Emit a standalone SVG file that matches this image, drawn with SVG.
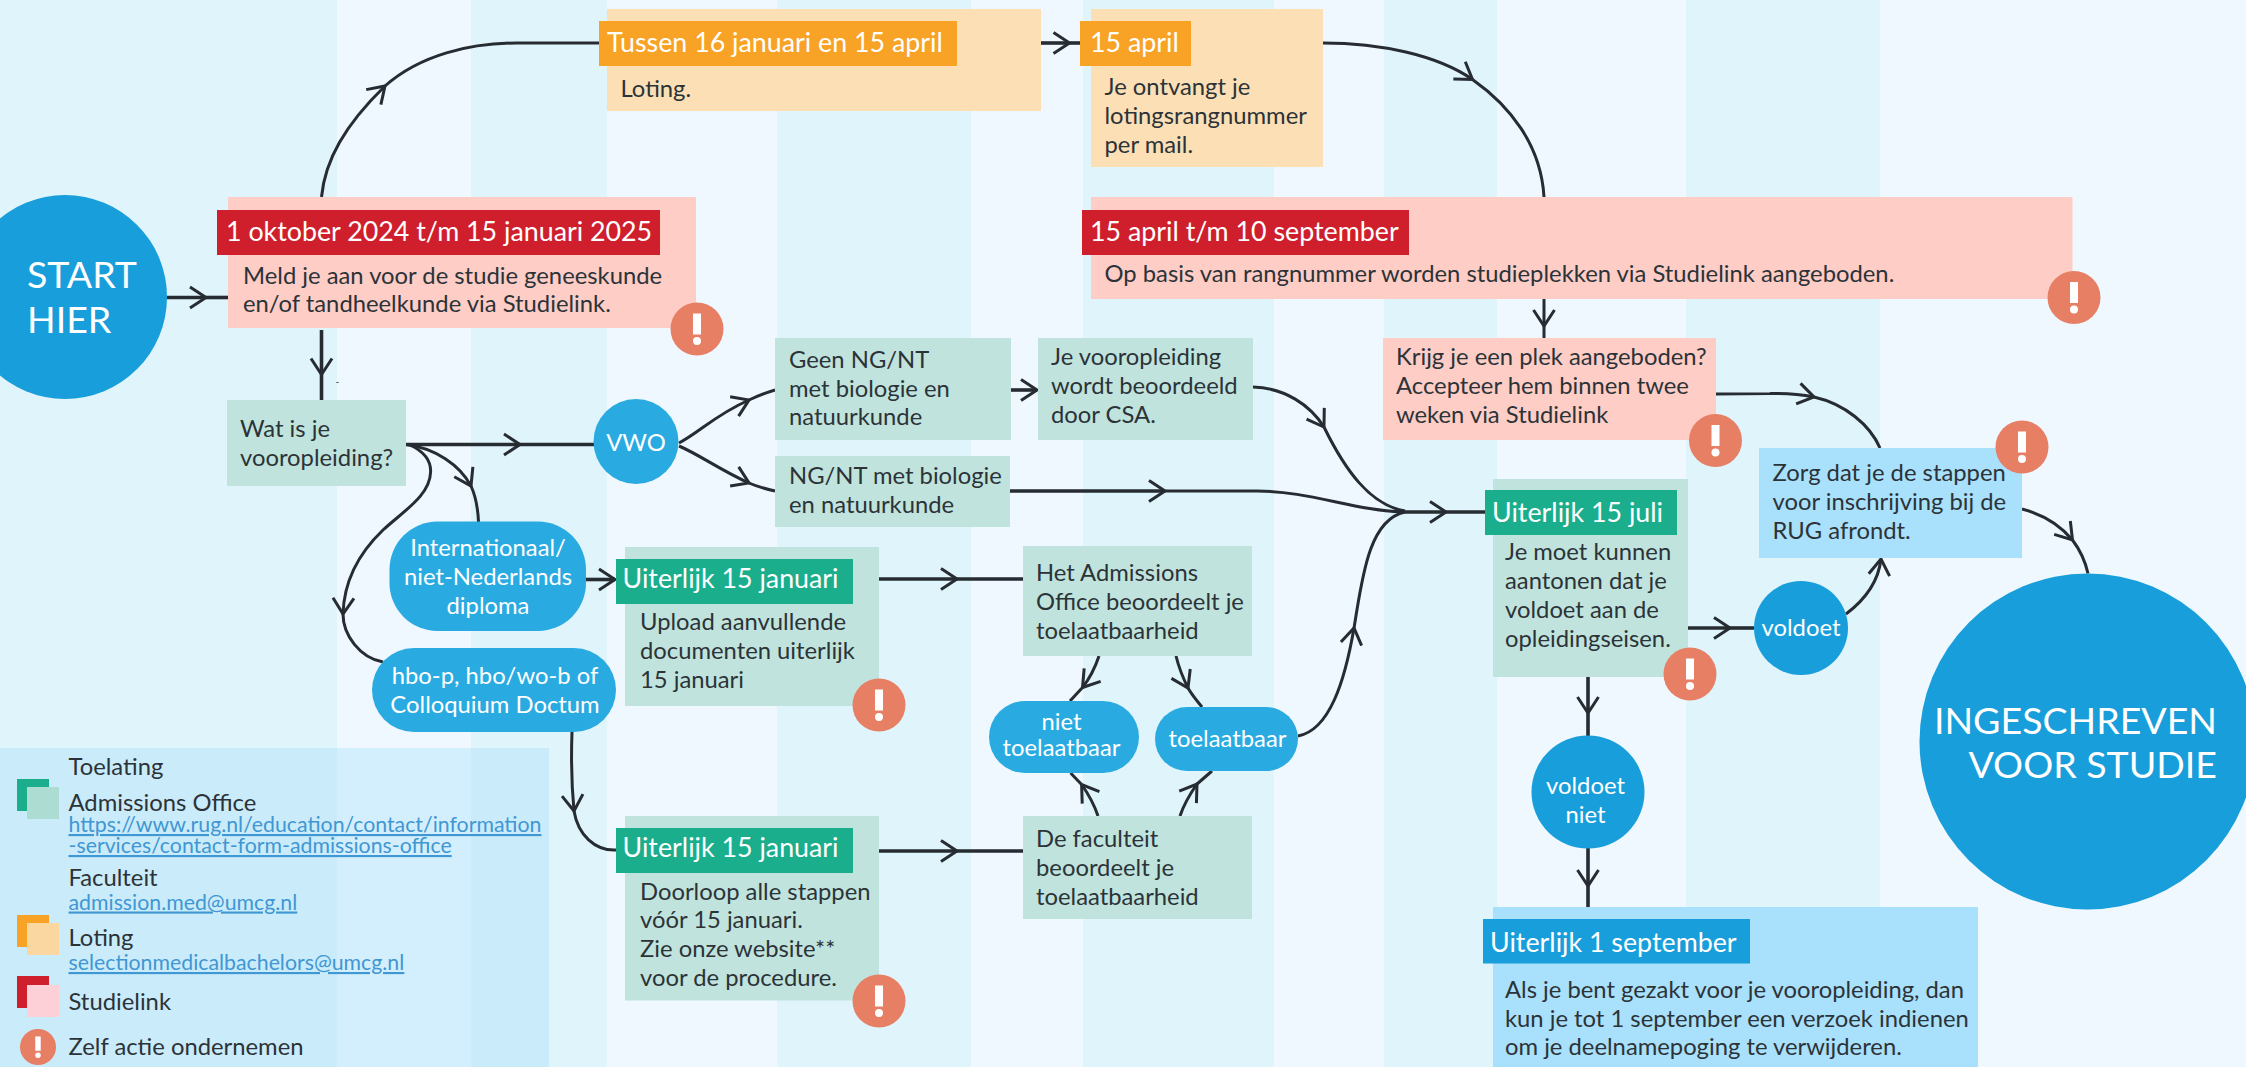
<svg xmlns="http://www.w3.org/2000/svg" width="2246" height="1067" viewBox="0 0 2246 1067">
<style>
text{font-family:"Lato","Liberation Sans",sans-serif;font-size:23.8px;fill:#2c3338}
.h{font-size:26.8px;fill:#fff}
.w{fill:#fff}
.m{text-anchor:middle}
.big{font-size:37.5px;fill:#fff}
.l{font-size:21.3px;fill:#3f97d3;text-decoration:underline}
.c{fill:none;stroke:#262c31;stroke-width:3}
.s{stroke-width:3.6}
.st{fill:#e0f4fb}
.gp{fill:#c0e4dd}.gh{fill:#1aae8c}
.op{fill:#fcdfb5}.oh{fill:#f8a226}
.rp{fill:#fdcdc6}.rh{fill:#d01f2c}
.bp{fill:#a9e0fb}.bh{fill:#189eda}
.pill{fill:#29abe2}
.a{fill:#e77f64}
.x{fill:#fff}
</style>
<defs>
<marker id="arr" markerUnits="userSpaceOnUse" markerWidth="40" markerHeight="40" viewBox="-20 -20 40 40" refX="0" refY="0" orient="auto" overflow="visible">
<path d="M-16,-10.5L0,0L-16,10.5" fill="none" stroke="#262c31" stroke-width="3"/>
</marker>
<g id="alert"><circle r="26.5" class="a"/><rect x="-4" y="-15.5" width="8" height="21" class="x"/><circle cy="12" r="4" class="x"/></g>
</defs>
<g id="background">
<rect width="2246" height="1067" fill="#eff8fe"/>
<rect x="0" width="337" height="1067" class="st"/>
<rect x="471" width="136" height="1067" class="st"/>
<rect x="777" width="194" height="1067" class="st"/>
<rect x="1083" width="191" height="1067" class="st"/>
<rect x="1384" width="113" height="1067" class="st"/>
<rect x="1686" width="194" height="1067" class="st"/>
</g>
<g id="connectors">
<path class="c s" d="M166,297.5H206" marker-end="url(#arr)"/><path class="c s" d="M206,297.5H228"/>
<path class="c" d="M321.5,197C325,160 345,125 385,86" marker-end="url(#arr)"/><path class="c" d="M385,86C420,55 470,43 517,43H599"/>
<path class="c s" d="M321.5,330V374.5" marker-end="url(#arr)"/><path class="c s" d="M321.5,374.5V400"/>
<path class="c s" d="M1041,43H1069.5" marker-end="url(#arr)"/><path class="c s" d="M1069.5,43H1080"/>
<path class="c" d="M1323,43C1380,43 1437,55 1472.5,79.5" marker-end="url(#arr)"/><path class="c" d="M1472.5,79.5C1510,106 1541,145 1544,197"/>
<path class="c" d="M1544,299V326" marker-end="url(#arr)"/><path class="c" d="M1544,326V338"/>
<path class="c s" d="M406,444.5H520" marker-end="url(#arr)"/><path class="c s" d="M520,444.5H594"/>
<path class="c" d="M679,443C700,432 715,415 749,400" marker-end="url(#arr)"/><path class="c" d="M749,400C760,395 768,392 775,390"/>
<path class="c" d="M679,446C700,455 720,470 749,483" marker-end="url(#arr)"/><path class="c" d="M749,483C758,487 766,489 775,491"/>
<path class="c s" d="M1011,390H1037" marker-end="url(#arr)"/>
<path class="c" d="M1253,387C1285,388 1310,405 1324,427" marker-end="url(#arr)"/><path class="c" d="M1324,427C1345,470 1370,505 1405,511"/>
<path class="c s" d="M1010,491H1165" marker-end="url(#arr)"/><path class="c" d="M1165,491H1257C1310,491 1355,511 1405,512"/>
<path class="c s" d="M1405,512H1446" marker-end="url(#arr)"/><path class="c s" d="M1446,512H1485"/>
<path class="c" d="M1298,736C1330,730 1345,680 1354,628" marker-end="url(#arr)"/><path class="c" d="M1354,628C1362,580 1368,520 1405,512"/>
<path class="c" d="M1716,394L1770,393.5C1785,393 1800,394 1814,397" marker-end="url(#arr)"/><path class="c" d="M1814,397C1845,404 1870,425 1880,448"/>
<path class="c" d="M2022,509C2045,515 2060,525 2072.5,540" marker-end="url(#arr)"/><path class="c" d="M2072.5,540C2080,550 2085,560 2088,573.5"/>
<path class="c s" d="M586,579.5H615" marker-end="url(#arr)"/>
<path class="c s" d="M879,579H957" marker-end="url(#arr)"/><path class="c s" d="M957,579H1023"/>
<path class="c s" d="M879,851H957" marker-end="url(#arr)"/><path class="c s" d="M957,851H1023"/>
<path class="c" d="M406,444.5C435,448 460,465 471,486" marker-end="url(#arr)"/><path class="c" d="M471,486C476,497 478,510 478.5,522"/>
<path class="c" d="M410,445C425,452 431,462 430.6,472C430,495 405,510 383,530C360,552 344,580 343,614" marker-end="url(#arr)"/><path class="c" d="M343,614C343,635 360,658 383,662"/>
<path class="c" d="M572,732C571,760 572,790 574,811" marker-end="url(#arr)"/><path class="c" d="M574,811C578,835 595,851 616,850"/>
<path class="c" d="M1099,656C1095,668 1090,678 1082.5,687.5" marker-end="url(#arr)"/><path class="c" d="M1082.5,687.5L1070,701"/>
<path class="c" d="M1176,656C1179,668 1183,678 1188,688" marker-end="url(#arr)"/><path class="c" d="M1188,688C1192,695 1197,701 1202,707"/>
<path class="c" d="M1098,816C1094,804 1089,795 1081.6,784.5" marker-end="url(#arr)"/><path class="c" d="M1081.6,784.5L1070.6,773"/>
<path class="c" d="M1180,816C1184,804 1190,794 1197,784" marker-end="url(#arr)"/><path class="c" d="M1197,784L1212,771"/>
<path class="c s" d="M1688,628H1730" marker-end="url(#arr)"/><path class="c s" d="M1730,628H1754"/>
<path class="c" d="M1846,614C1862,602 1878,585 1881,559" marker-end="url(#arr)"/>
<path class="c s" d="M1588,677V713" marker-end="url(#arr)"/><path class="c s" d="M1588,713V736"/>
<path class="c s" d="M1588,848V886" marker-end="url(#arr)"/><path class="c s" d="M1588,886V907"/>
</g>
<g id="start"><circle cx="65" cy="297" r="102" class="bh"/><text class="big" x="27" y="288">START</text><text class="big" x="27" y="333">HIER</text></g>
<g id="aanmelden"><rect x="228" y="197" width="468" height="131" class="rp"/><rect x="217" y="210" width="443" height="45" class="rh"/><text class="h" x="226" y="241">1 oktober 2024 t/m 15 januari 2025</text><text x="243" y="284">Meld je aan voor de studie geneeskunde</text><text x="243" y="312">en/of tandheelkunde via Studielink.</text><use href="#alert" x="697" y="329"/></g>
<g id="loting"><rect x="607" y="9" width="434" height="102" class="op"/><rect x="599" y="21" width="358" height="45" class="oh"/><text class="h" x="607" y="51.5">Tussen 16 januari en 15 april</text><text x="620.5" y="97">Loting.</text></g>
<g id="rangnummer"><rect x="1091" y="9" width="232" height="158" class="op"/><rect x="1080" y="21" width="111" height="45" class="oh"/><text class="h" x="1090" y="51.5">15 april</text><text x="1104.5" y="95">Je ontvangt je</text><text x="1104.5" y="124">lotingsrangnummer</text><text x="1104.5" y="153">per mail.</text></g>
<g id="studieplekken"><rect x="1091" y="197" width="981.5" height="102" class="rp"/><rect x="1082" y="210" width="327" height="45" class="rh"/><text class="h" x="1090" y="241">15 april t/m 10 september</text><text x="1104.5" y="282">Op basis van rangnummer worden studieplekken via Studielink aangeboden.</text><use href="#alert" x="2074" y="297.5"/></g>
<g id="plek"><rect x="1383" y="338" width="333" height="102" class="rp"/><text x="1396" y="365">Krijg je een plek aangeboden?</text><text x="1396" y="394">Accepteer hem binnen twee</text><text x="1396" y="423">weken via Studielink</text><use href="#alert" x="1715.5" y="440.5"/></g>
<g id="vooropleiding"><rect x="227" y="400" width="179" height="86" class="gp"/><text x="240" y="437">Wat is je</text><text x="240" y="466">vooropleiding?</text><text x="335.5" y="385" style="font-size:10px">-</text></g>
<g id="vwo"><circle cx="636" cy="441.5" r="42.5" class="pill"/><text class="w m" x="636" y="451">VWO</text></g>
<g id="geen-ngnt"><rect x="775" y="338" width="236" height="102" class="gp"/><text x="789" y="367.5">Geen NG/NT</text><text x="789" y="397">met biologie en</text><text x="789" y="425">natuurkunde</text></g>
<g id="csa"><rect x="1038" y="338" width="215" height="102" class="gp"/><text x="1051" y="365">Je vooropleiding</text><text x="1051" y="394">wordt beoordeeld</text><text x="1051" y="423">door CSA.</text></g>
<g id="ngnt"><rect x="775" y="456" width="235" height="71" class="gp"/><text x="789" y="484">NG/NT met biologie</text><text x="789" y="513">en natuurkunde</text></g>
<g id="internationaal"><rect x="389.5" y="521.5" width="196.5" height="109.5" rx="48" class="pill"/><text class="w m" x="488" y="556">Internationaal/</text><text class="w m" x="488" y="585">niet-Nederlands</text><text class="w m" x="488" y="614">diploma</text></g>
<g id="hbo"><rect x="372" y="648" width="244" height="84" rx="42" class="pill"/><text class="w m" x="495" y="684">hbo-p, hbo/wo-b of</text><text class="w m" x="495" y="713">Colloquium Doctum</text></g>
<g id="upload"><rect x="625" y="547" width="254" height="159" class="gp"/><rect x="616" y="559" width="237" height="45" class="gh"/><text class="h" x="622.5" y="588">Uiterlijk 15 januari</text><text x="640" y="630">Upload aanvullende</text><text x="640" y="659">documenten uiterlijk</text><text x="640" y="688">15 januari</text><use href="#alert" x="879" y="705"/></g>
<g id="doorloop"><rect x="625" y="816" width="254" height="184.5" class="gp"/><rect x="616" y="828" width="237" height="45" class="gh"/><text class="h" x="622.5" y="857">Uiterlijk 15 januari</text><text x="640" y="900">Doorloop alle stappen</text><text x="640" y="928">vóór 15 januari.</text><text x="640" y="957">Zie onze website**</text><text x="640" y="986">voor de procedure.</text><use href="#alert" x="879" y="1001"/></g>
<g id="admissions"><rect x="1023" y="546" width="229" height="110" class="gp"/><text x="1036" y="581">Het Admissions</text><text x="1036" y="610">Office beoordeelt je</text><text x="1036" y="639">toelaatbaarheid</text></g>
<g id="faculteit"><rect x="1023" y="816" width="229" height="103" class="gp"/><text x="1036" y="847">De faculteit</text><text x="1036" y="876">beoordeelt je</text><text x="1036" y="905">toelaatbaarheid</text></g>
<g id="niet-toelaatbaar"><rect x="989" y="701" width="150" height="72" rx="36" class="pill"/><text class="w m" x="1061.5" y="730">niet</text><text class="w m" x="1061.5" y="756">toelaatbaar</text></g>
<g id="toelaatbaar"><rect x="1155" y="707" width="143" height="64" rx="32" class="pill"/><text class="w m" x="1227.5" y="747">toelaatbaar</text></g>
<g id="juli"><rect x="1493" y="479" width="195" height="198" class="gp"/><rect x="1485" y="490" width="192" height="45" class="gh"/><text class="h" x="1492" y="522">Uiterlijk 15 juli</text><text x="1505" y="560">Je moet kunnen</text><text x="1505" y="589">aantonen dat je</text><text x="1505" y="618">voldoet aan de</text><text x="1505" y="647">opleidingseisen.</text><use href="#alert" x="1690" y="674"/></g>
<g id="voldoet"><circle cx="1801" cy="628" r="47" class="bh"/><text class="w m" x="1801" y="636">voldoet</text></g>
<g id="voldoet-niet"><circle cx="1588" cy="792" r="56.5" class="bh"/><text class="w m" x="1585.5" y="794">voldoet</text><text class="w m" x="1585.5" y="823">niet</text></g>
<g id="zorg"><rect x="1759" y="448" width="263" height="110" class="bp"/><text x="1772.5" y="481">Zorg dat je de stappen</text><text x="1772.5" y="509.5">voor inschrijving bij de</text><text x="1772.5" y="539">RUG afrondt.</text><use href="#alert" x="2022" y="447"/></g>
<g id="ingeschreven"><circle cx="2087.5" cy="741.5" r="168" class="bh"/><text class="big" x="2217" y="734" text-anchor="end">INGESCHREVEN</text><text class="big" x="2217" y="778" text-anchor="end">VOOR STUDIE</text></g>
<g id="september"><rect x="1493" y="907" width="485" height="160" class="bp"/><rect x="1483" y="919" width="267" height="44.5" class="bh"/><text class="h" x="1490" y="952">Uiterlijk 1 september</text><text x="1505" y="997.5">Als je bent gezakt voor je vooropleiding, dan</text><text x="1505" y="1026.5">kun je tot 1 september een verzoek indienen</text><text x="1505" y="1055">om je deelnamepoging te verwijderen.</text></g>
<g id="legend">
<rect x="0" y="748" width="549" height="319" fill="#a9dffa" fill-opacity=".4"/>
<rect x="17" y="779" width="32" height="32" class="gh"/><rect x="27" y="787" width="32" height="32" fill="#acdcd2"/>
<rect x="17" y="915" width="32" height="32" class="oh"/><rect x="27" y="923" width="32" height="32" fill="#fad7a1"/>
<rect x="17" y="976" width="32" height="32" class="rh"/><rect x="27" y="985" width="32" height="32" fill="#fdd0d8"/>
<g transform="translate(38 1047) scale(.68)"><use href="#alert"/></g>
<text x="68.5" y="775">Toelating</text>
<text x="68.5" y="811">Admissions Office</text>
<text class="l" x="68.5" y="832">https://www.rug.nl/education/contact/information</text>
<text class="l" x="68.5" y="853">-services/contact-form-admissions-office</text>
<text x="68.5" y="886">Faculteit</text>
<text class="l" x="68.5" y="909.5">admission.med@umcg.nl</text>
<text x="68.5" y="946">Loting</text>
<text class="l" x="68.5" y="970">selectionmedicalbachelors@umcg.nl</text>
<text x="68.5" y="1009.5">Studielink</text>
<text x="68.5" y="1055">Zelf actie ondernemen</text>
</g>
</svg>
